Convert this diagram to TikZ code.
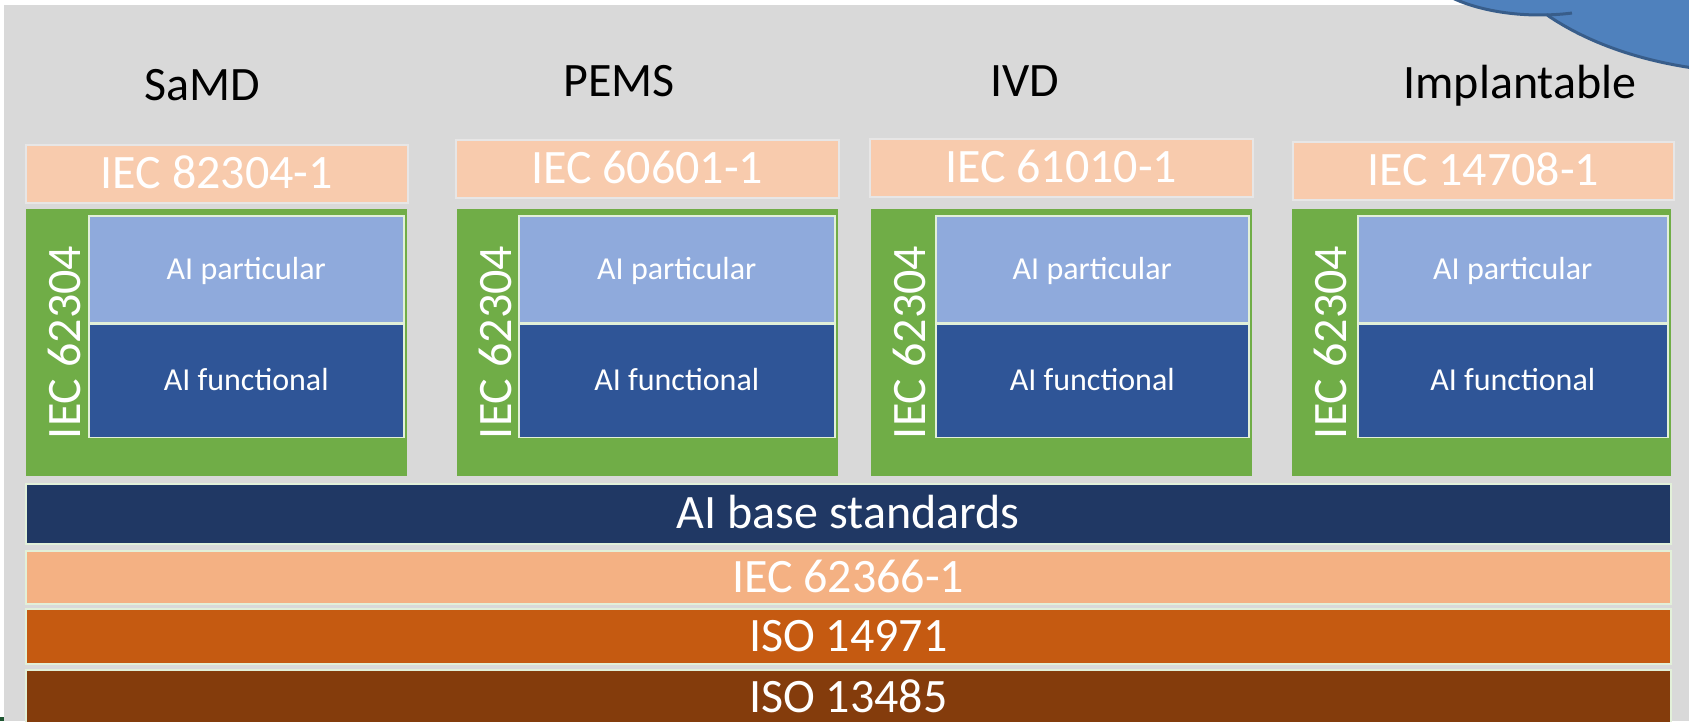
\documentclass[tikz,border=0pt]{standalone}
\usepackage{fontspec}
\setmainfont{Carlito}
\usetikzlibrary{positioning}

\definecolor{bggray}{HTML}{D9D9D9}
\definecolor{peachlight}{HTML}{F8CBAD}
\definecolor{peach}{HTML}{F4B183}
\definecolor{leafgreen}{HTML}{70AD47}
\definecolor{skyblue}{HTML}{8FAADC}
\definecolor{midblue}{HTML}{2F5597}
\definecolor{navy}{HTML}{203864}
\definecolor{rust}{HTML}{C55A11}
\definecolor{brown}{HTML}{843C0C}
\definecolor{edgegreen}{HTML}{E2F0D9}
\definecolor{edgegray}{HTML}{E7E6E6}
\definecolor{cloudblue}{HTML}{4F81BD}
\definecolor{cloudedge}{HTML}{385D8A}
\definecolor{markgreen}{HTML}{1E5631}

\newcommand{\bigfont}{\fontsize{48pt}{56pt}\selectfont}
\newcommand{\smallfont}{\fontsize{32pt}{38pt}\selectfont}

\begin{document}
\begin{tikzpicture}[x=1pt,y=-1pt]
    \tikzstyle{device} = [anchor=base, font=\bigfont, text=black, inner sep=0pt]
    \tikzstyle{safety} = [rectangle, draw=edgegray, line width=1.5pt, fill=peachlight, anchor=north west, inner sep=0pt, minimum height=58pt, text=white, font=\bigfont, text height=30pt, text depth=0pt]
    \tikzstyle{lifecycle} = [rectangle, fill=leafgreen, anchor=north west, inner sep=0pt, minimum width=381pt, minimum height=267pt]
    \tikzstyle{swlabel} = [rotate=90, text=white, font=\bigfont, inner sep=0pt, text height=30pt, text depth=0pt]
    \tikzstyle{particular} = [rectangle, draw=edgegreen, line width=1.5pt, fill=skyblue, anchor=north west, inner sep=0pt, minimum height=107pt, text=white, font=\smallfont, text height=20pt, text depth=0pt]
    \tikzstyle{functional} = [rectangle, draw=edgegreen, line width=1.5pt, fill=midblue, inner sep=0pt, minimum height=113pt, text=white, font=\smallfont, text height=20pt, text depth=0pt]
    \tikzstyle{layer} = [rectangle, draw=edgegreen, line width=1.5pt, anchor=north west, inner sep=0pt, minimum width=1645pt, text=white, font=\bigfont, text height=30pt, text depth=0pt]

    \useasboundingbox (0,0) rectangle (1689,721);
    \fill[bggray] (4,5) rectangle (1689,721);
    \fill[markgreen] (0,717) rectangle (4,721);

    % cloud in the top right corner
    \begin{scope}
        \clip (0,0) rectangle (1689,721);
        \fill[cloudblue] (1540,-40) ellipse [x radius=121, y radius=55];
        \fill[cloudblue] (1760,-92) ellipse [x radius=280, y radius=165];
        \draw[cloudedge, line width=3pt] (1435.2,-12.5) arc [start angle=150, end angle=86.7, x radius=121, y radius=55]
            arc [start angle=139.5, end angle=60, x radius=280, y radius=165];
        \draw[cloudedge, line width=3pt] (1547,14.9) arc [start angle=86.7, end angle=74.7, x radius=121, y radius=55];
    \end{scope}

    % device types
    \node[device] (samd) at (202,100) {SaMD};
    \node[device] (pems) at (619,96) {PEMS};
    \node[device] (ivd) at (1025,96) {IVD};
    \node[device] (implant) at (1520,98) {Implantable};

    % product standards
    \node[safety, minimum width=382pt] (std1) at (25,144) {IEC 82304-1};
    \node[safety, minimum width=383pt] (std2) at (455,139) {IEC 60601-1};
    \node[safety, minimum width=383pt] (std3) at (869,138) {IEC 61010-1};
    \node[safety, minimum width=381pt] (std4) at (1292,141) {IEC 14708-1};

    % software life cycle columns
    \node[lifecycle] (life1) at (26,209) {};
    \node[lifecycle] (life2) at (457,209) {};
    \node[lifecycle] (life3) at (871,209) {};
    \node[lifecycle, minimum width=379pt] (life4) at (1292,209) {};

    \node[swlabel] (sw1) at (65,342.5) {IEC 62304};
    \node[swlabel] (sw2) at (496,342.5) {IEC 62304};
    \node[swlabel] (sw3) at (910,342.5) {IEC 62304};
    \node[swlabel] (sw4) at (1331,342.5) {IEC 62304};

    \node[particular, minimum width=315pt] (part1) at (88,215) {AI particular};
    \node[particular, minimum width=316pt] (part2) at (518,215) {AI particular};
    \node[particular, minimum width=313pt] (part3) at (935,215) {AI particular};
    \node[particular, minimum width=310pt] (part4) at (1357,215) {AI particular};

    \node[functional, minimum width=315pt, below=0pt of part1] (func1) {AI functional};
    \node[functional, minimum width=316pt, below=0pt of part2] (func2) {AI functional};
    \node[functional, minimum width=313pt, below=0pt of part3] (func3) {AI functional};
    \node[functional, minimum width=310pt, below=0pt of part4] (func4) {AI functional};

    % horizontal base layers
    \node[layer, fill=navy, minimum height=60pt] (aibase) at (25,483) {AI base standards};
    \node[layer, fill=peach, minimum height=53pt] (usability) at (25,550) {IEC 62366-1};
    \node[layer, fill=rust, minimum height=55pt] (risk) at (25,608) {ISO 14971};
    \node[layer, fill=brown, minimum height=55pt] (quality) at (25,669) {ISO 13485};
\end{tikzpicture}
\end{document}
